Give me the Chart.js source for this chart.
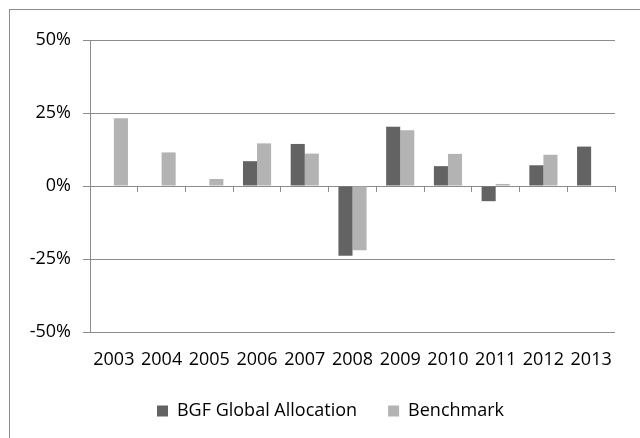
<!DOCTYPE html>
<html>
<head>
<meta charset="utf-8">
<script src="https://cdn.jsdelivr.net/npm/chart.js@4"></script>
<style>
  html, body { margin: 0; padding: 0; background: #fff; }
  #wrap { width: 640px; height: 438px; }
</style>
</head>
<body>
<div id="wrap"><canvas id="returns" width="640" height="438"></canvas></div>
<script>
const years = ["2003", "2004", "2005", "2006", "2007", "2008", "2009", "2010", "2011", "2012", "2013"];
const fundReturns = [null, null, null, 8.5, 14.4, -23.9, 20.3, 6.8, -5.2, 7.1, 13.5];
const benchReturns = [23.2, 11.5, 2.4, 14.6, 11.1, -22.0, 19.1, 11.0, 0.7, 10.7, null];
const yTicks = [-50, -25, 0, 25, 50];

const lineGrey = "#8c8c8c";
const font = "'Open Sans', sans-serif";

// outer frame like the spreadsheet chart area
const frame = {
    id: "frame",
    beforeDraw(chart) {
        const ctx = chart.ctx;
        ctx.save();
        ctx.fillStyle = "#fff";
        ctx.fillRect(0, 0, chart.width, chart.height);
        ctx.strokeStyle = lineGrey;
        ctx.lineWidth = 1;
        ctx.strokeRect(9.5, 9.5, 700, 500);
        ctx.restore();
    }
};

// legend sits a bit right of centre in the original
const legendShift = {
    id: "legendShift",
    afterLayout(chart) {
        chart.legend.left += 23;
        chart.legend.right += 23;
    }
};

new Chart(document.getElementById("returns"), {
    type: "bar",
    data: {
        labels: years,
        datasets: [{
            label: "BGF Global Allocation",
            data: fundReturns,
            backgroundColor: "#636363",
            borderWidth: 0
        }, {
            label: "Benchmark",
            data: benchReturns,
            backgroundColor: "#b3b3b3",
            borderWidth: 0
        }]
    },
    options: {
        responsive: false,
        animation: false,
        datasets: { bar: { barPercentage: 1, categoryPercentage: 0.59 } },
        layout: { padding: { top: 40, right: 25, left: 0, bottom: 8 } },
        plugins: {
            legend: {
                position: "bottom",
                labels: {
                    color: "#000",
                    font: { family: font, size: 18 },
                    boxWidth: 11,
                    boxHeight: 11,
                    padding: 31
                }
            },
            tooltip: { enabled: false }
        },
        scales: {
            x: {
                grid: { display: false },
                border: { display: false },
                ticks: { color: "#000", font: { family: font, size: 18 }, maxRotation: 0, padding: 9 },
                afterFit(scale) { scale.height = 39; }
            },
            x2: {
                type: "category",
                labels: years,
                position: { y: 0 },
                offset: true,
                grid: { offset: true, drawOnChartArea: false, color: lineGrey, tickLength: 5 },
                border: { color: lineGrey },
                ticks: { display: false }
            },
            y: {
                min: -50,
                max: 50,
                afterBuildTicks(scale) { scale.ticks = yTicks.map(v => ({ value: v })); },
                grid: { color: lineGrey, tickLength: 7 },
                border: { color: lineGrey },
                ticks: {
                    color: "#000",
                    font: { family: font, size: 18 },
                    padding: 12,
                    callback: v => v + "%"
                },
                afterFit(scale) { scale.width = 90; }
            }
        }
    },
    plugins: [frame, legendShift]
});
</script>
</body>
</html>
